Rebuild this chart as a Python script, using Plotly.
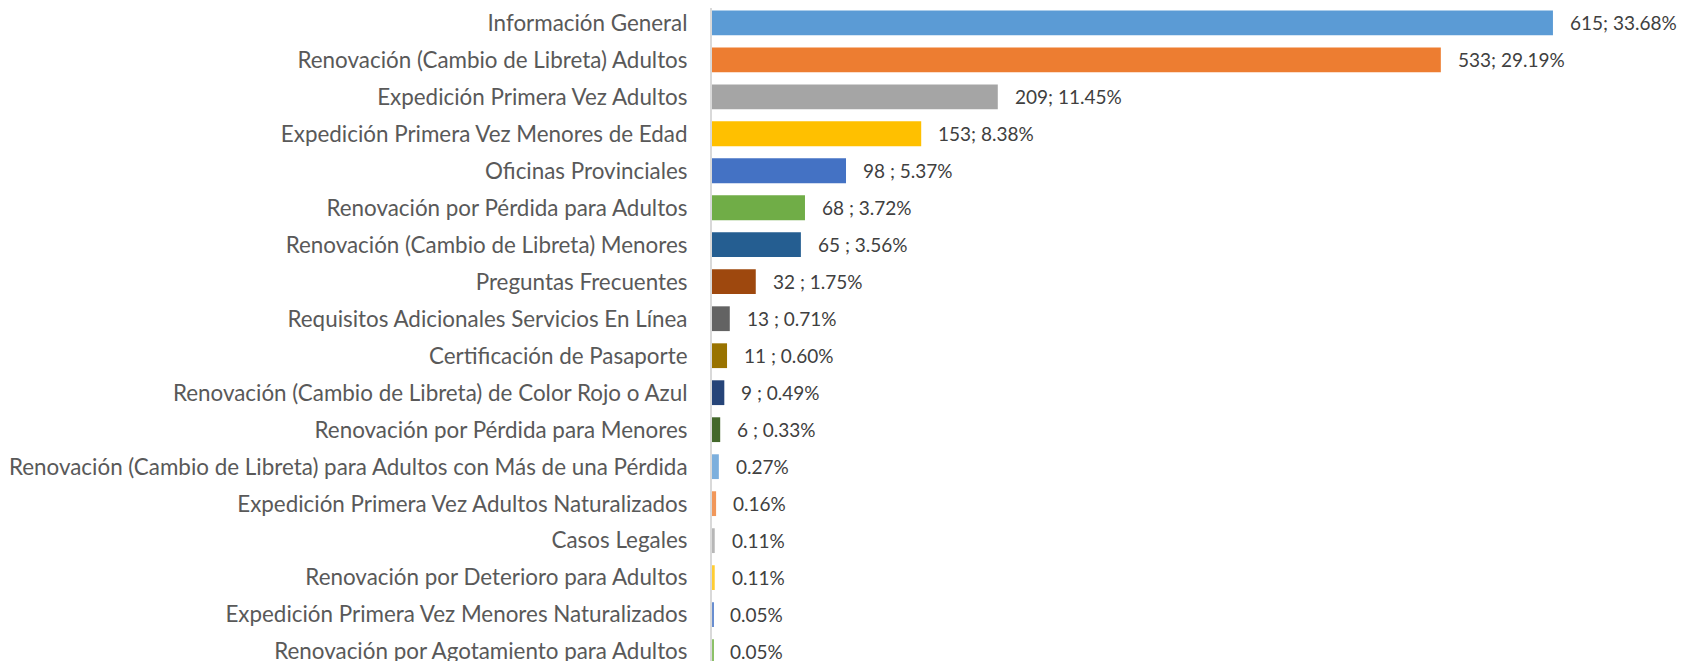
import plotly.graph_objects as go

categories = [
    "Información General",
    "Renovación (Cambio de Libreta) Adultos",
    "Expedición Primera Vez Adultos",
    "Expedición Primera Vez Menores de Edad",
    "Oficinas Provinciales",
    "Renovación por Pérdida para Adultos",
    "Renovación (Cambio de Libreta) Menores",
    "Preguntas Frecuentes",
    "Requisitos Adicionales Servicios En Línea",
    "Certificación de Pasaporte",
    "Renovación (Cambio de Libreta) de Color Rojo o Azul",
    "Renovación por Pérdida para Menores",
    "Renovación (Cambio de Libreta) para Adultos con Más de una Pérdida",
    "Expedición Primera Vez Adultos Naturalizados",
    "Casos Legales",
    "Renovación por Deterioro para Adultos",
    "Expedición Primera Vez Menores Naturalizados",
    "Renovación por Agotamiento para Adultos",
]
values = [615, 533, 209, 153, 98, 68, 65, 32, 13, 11, 9, 6, 5, 3, 2, 2, 1, 1]
value_labels = [
    "615; 33.68%", "533; 29.19%", "209; 11.45%", "153; 8.38%", "98 ; 5.37%",
    "68 ; 3.72%", "65 ; 3.56%", "32 ; 1.75%", "13 ; 0.71%", "11 ; 0.60%",
    "9 ; 0.49%", "6 ; 0.33%", "0.27%", "0.16%", "0.11%", "0.11%", "0.05%", "0.05%",
]
colors = [
    "#5B9BD5", "#ED7D31", "#A5A5A5", "#FFC000", "#4472C4", "#70AD47",
    "#255E91", "#9E480E", "#636363", "#997300", "#264478", "#43682B",
    "#7CAFDD", "#F1975A", "#B7B7B7", "#FFCD33", "#698ED0", "#8CC168",
]

FONT = "Lato"

fig = go.Figure()
fig.add_trace(go.Bar(
    x=values, y=categories, orientation="h",
    marker=dict(color=colors, line=dict(width=0)),
    width=0.67, hoverinfo="x+y",
))

for c, v, t in zip(categories, values, value_labels):
    fig.add_annotation(
        x=v, y=c, text=t, showarrow=False, xanchor="left", yanchor="middle",
        xshift=15, font=dict(family=FONT, size=19, color="#404040"),
    )

fig.update_layout(
    width=1694, height=661,
    margin=dict(l=704, r=0, t=0, b=0),
    paper_bgcolor="white", plot_bgcolor="white",
    showlegend=False,
    bargap=0.33,
    xaxis=dict(range=[0, 724], visible=False, fixedrange=True),
    yaxis=dict(
        type="category", categoryorder="array", categoryarray=categories,
        range=[17.47, -0.4], showgrid=False, zeroline=False,
        showline=True, linecolor="#D9D9D9", linewidth=2,
        ticks="", ticklabelstandoff=18, automargin=False,
        tickfont=dict(family=FONT, size=22.4, color="#595959"),
    ),
)

fig.write_html("out.html")
